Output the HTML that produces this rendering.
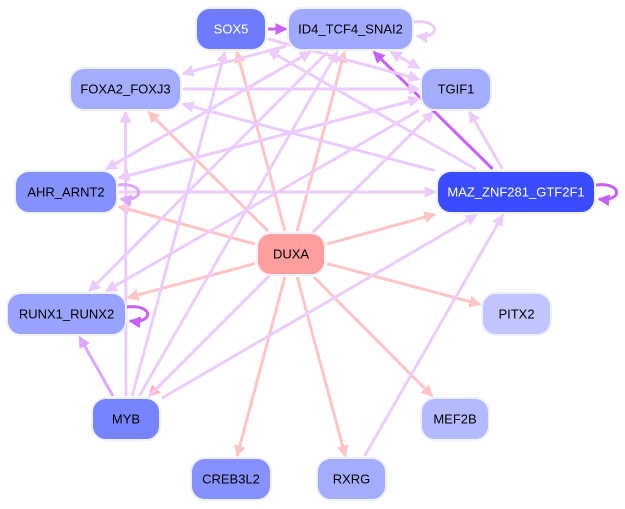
<!DOCTYPE html>
<html><head><meta charset="utf-8"><style>
html,body{margin:0;padding:0;background:#fff;width:625px;height:509px;overflow:hidden}
svg{display:block}
text{font-family:"Liberation Sans",sans-serif;font-size:13px;text-anchor:middle;dominant-baseline:central}
</style></head><body>
<svg id="s" width="625" height="509" viewBox="0 0 625 509" xmlns="http://www.w3.org/2000/svg">
<defs></defs>
<g id="e"></g><g id="n"></g>
</svg>
<script>
var N={
SOX5:[196,8,70,42,'#6f7bff','#fff'],
ID4_TCF4_SNAI2:[288,8,125,42,'#a0a8ff','#000'],
FOXA2_FOXJ3:[70,68,111,42,'#a4acff','#000'],
TGIF1:[421,68,70,42,'#a4acff','#000'],
AHR_ARNT2:[15,171,102,42,'#8690ff','#000'],
MAZ_ZNF281_GTF2F1:[437,171,158,42,'#3a4cff','#fff'],
DUXA:[257,233,68,42,'#ff9e9e','#000'],
RUNX1_RUNX2:[7,293,119,42,'#9aa2ff','#000'],
PITX2:[482,293,69,42,'#c0c4ff','#000'],
MYB:[92,398,68,42,'#7884ff','#000'],
MEF2B:[421,398,68,42,'#b4baff','#000'],
CREB3L2:[191,458,80,42,'#8690ff','#000'],
RXRG:[317,458,69,42,'#a4acff','#000']};
var P='#ffc4c4',L='#ecccff',M='#dca8ff',D='#c860ff';
var E=[
['DUXA','SOX5',P],['DUXA','ID4_TCF4_SNAI2',P],['DUXA','FOXA2_FOXJ3',P],['DUXA','TGIF1',P],['DUXA','AHR_ARNT2',P],['DUXA','MAZ_ZNF281_GTF2F1',P],['DUXA','RUNX1_RUNX2',P],['DUXA','PITX2',P],['DUXA','MYB','#ffb4b4'],['DUXA','MEF2B',P],['DUXA','CREB3L2',P],['DUXA','RXRG',P],
['MYB','SOX5',L],['MYB','ID4_TCF4_SNAI2',L],['MYB','FOXA2_FOXJ3',L],['MYB','TGIF1',L],['MYB','RUNX1_RUNX2',M],['MYB','MAZ_ZNF281_GTF2F1',L],
['RXRG','MAZ_ZNF281_GTF2F1',L],['MAZ_ZNF281_GTF2F1','TGIF1',L],['MAZ_ZNF281_GTF2F1','ID4_TCF4_SNAI2',D],['MAZ_ZNF281_GTF2F1','SOX5',L],['MAZ_ZNF281_GTF2F1','FOXA2_FOXJ3',L],
['AHR_ARNT2','MAZ_ZNF281_GTF2F1',L],['AHR_ARNT2','TGIF1',L],['AHR_ARNT2','ID4_TCF4_SNAI2',L],
['FOXA2_FOXJ3','TGIF1',L],['TGIF1','ID4_TCF4_SNAI2',L],['ID4_TCF4_SNAI2','TGIF1',L],['ID4_TCF4_SNAI2','FOXA2_FOXJ3',L],['ID4_TCF4_SNAI2','AHR_ARNT2',L],['ID4_TCF4_SNAI2','RUNX1_RUNX2',L],
['TGIF1','AHR_ARNT2',L],['TGIF1','RUNX1_RUNX2',L],['SOX5','TGIF1',L],['SOX5','ID4_TCF4_SNAI2',D]];
var ns='http://www.w3.org/2000/svg',defs=document.querySelector('defs'),eg=document.getElementById('e'),ng=document.getElementById('n');
var mk={};
function marker(c){if(mk[c])return mk[c];var id='m'+Object.keys(mk).length;var m=document.createElementNS(ns,'marker');
m.setAttribute('id',id);m.setAttribute('markerWidth','4');m.setAttribute('markerHeight','4');m.setAttribute('refX','3.5');m.setAttribute('refY','2');m.setAttribute('orient','auto');m.setAttribute('markerUnits','strokeWidth');
m.innerHTML='<path d="M0,0 L4,2 L0,4 z" fill="'+c+'"/>';defs.appendChild(m);mk[c]=id;return id;}
function clip(n,tx,ty){var r=N[n],cx=r[0]+r[2]/2,cy=r[1]+r[3]/2,dx=tx-cx,dy=ty-cy;var sx=dx?(r[2]/2+2)/Math.abs(dx):1e9,sy=dy?(r[3]/2+2)/Math.abs(dy):1e9,s=Math.min(sx,sy);return [cx+dx*s,cy+dy*s];}
E.forEach(function(e){var a=N[e[0]],b=N[e[1]];var ax=a[0]+a[2]/2,ay=a[1]+a[3]/2,bx=b[0]+b[2]/2,by=b[1]+b[3]/2;
var p=clip(e[0],bx,by),q=clip(e[1],ax,ay);var l=document.createElementNS(ns,'line');
l.setAttribute('x1',p[0]);l.setAttribute('y1',p[1]);l.setAttribute('x2',q[0]);l.setAttribute('y2',q[1]);
l.setAttribute('stroke',e[2]);l.setAttribute('stroke-width','3');l.setAttribute('marker-end','url(#'+marker(e[2])+')');eg.appendChild(l);});
[['ID4_TCF4_SNAI2',L],['AHR_ARNT2',M],['RUNX1_RUNX2',D],['MAZ_ZNF281_GTF2F1',D]].forEach(function(s){var r=N[s[0]],x=r[0]+r[2],y=r[1]+r[3]/2;
var p=document.createElementNS(ns,'path');p.setAttribute('d','M'+(x+1)+','+(y-7)+' C'+(x+28)+','+(y-10)+' '+(x+28)+','+(y+10)+' '+(x+4)+','+(y+7));
p.setAttribute('fill','none');p.setAttribute('stroke',s[1]);p.setAttribute('stroke-width','3');p.setAttribute('marker-end','url(#'+marker(s[1])+')');eg.appendChild(p);});
for(var k in N){var r=N[k];var g=document.createElementNS(ns,'g');
g.innerHTML='<rect x="'+r[0]+'" y="'+r[1]+'" width="'+r[2]+'" height="'+r[3]+'" rx="14" fill="'+r[4]+'" stroke="#eef0ff" stroke-width="2"/><text x="'+(r[0]+r[2]/2)+'" y="'+(r[1]+r[3]/2)+'" fill="'+r[5]+'">'+k+'</text>';ng.appendChild(g);}
</script>
</body></html>
